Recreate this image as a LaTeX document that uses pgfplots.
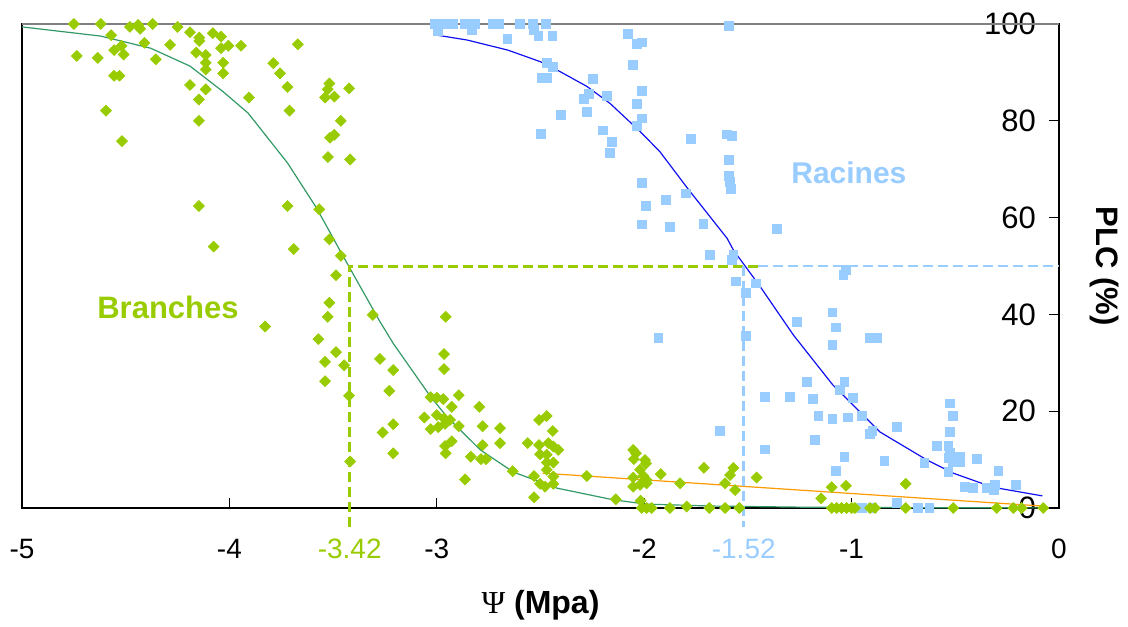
\documentclass[border=0pt]{standalone}
\usepackage{fontspec}
\setmainfont{Liberation Sans}
\newfontfamily\psifont{Liberation Serif}
\usepackage{pgfplots}
\pgfplotsset{compat=1.18}
\definecolor{grn}{HTML}{99CC00}
\definecolor{lb}{HTML}{99CCFF}
\definecolor{seagreen}{HTML}{339966}
\definecolor{orng}{HTML}{FF9900}
\definecolor{curveblue}{HTML}{1010F0}

\begin{document}
\begin{tikzpicture}
\begin{axis}[
    scale only axis,
    width=518.5pt, height=242pt,
    xmin=-5, xmax=0, ymin=0, ymax=100,
    clip=false,
    axis line style={black, line width=0.7pt},
    tick align=inside,
    xtick pos=bottom, ytick pos=right,
    xtick={-5,-4,-3,-2,-1,0},
    xticklabels={-5,-4,-3,-2,-1,0},
    ytick={0,20,40,60,80,100},
    yticklabels={0,20,40,60,80,100},
    major tick length=5pt,
    tick style={black, line width=0.6pt},
    xticklabel style={font=\fontsize{14}{16}\selectfont, yshift=-12pt},
    yticklabel style={font=\fontsize{15.5}{17}\selectfont, anchor=east, xshift=-8pt},
    extra x ticks={-3.42,-1.52},
    extra x tick labels={{\color{grn}-3.42},{\color{lb}-1.52}},
    extra x tick style={major tick length=0pt},
]
% fitted curves
\addplot[seagreen, line width=0.6pt, no marks] coordinates {
    (-5,99.4) (-4.62,97.5) (-4.38,95) (-4.19,91.3) (-4.03,86) (-3.91,81.6)
    (-3.72,71.3) (-3.58,62) (-3.45,51.9) (-3.274,38.5) (-3.21,34) (-3.03,23)
    (-2.95,18.8) (-2.79,12) (-2.63,7.4) (-2.42,4.1) (-2.15,1.7) (-1.99,0.8)
    (-1.67,0.4) (-1.2,0.15) (-0.5,0.05) (-0.05,0.02)
};
\addplot[curveblue, line width=0.6pt, no marks] coordinates {
    (-3.0,97.7) (-2.855,96.7) (-2.657,94.6) (-2.5,92.2) (-2.42,90.5) (-2.276,87.1)
    (-2.165,83.6) (-2.02,77.8) (-1.924,73.6) (-1.79,66) (-1.683,60.2) (-1.6,55.7)
    (-1.57,53.3) (-1.44,45.7) (-1.28,35.7) (-1.09,25.4) (-0.863,15.7) (-0.636,9.9)
    (-0.51,7.2) (-0.32,4.3) (-0.08,2.5)
};
\addplot[orng, line width=0.6pt, no marks] coordinates {(-2.49,7.2) (-0.08,0.4)};

% Racines
\addplot[only marks, mark=square*, mark size=2.2pt, mark options={draw=lb, fill=lb}] coordinates {
    (-3.009,100) (-2.985,100) (-2.961,100) (-2.924,100) (-2.864,100) (-2.84,100)
    (-2.816,100) (-2.728,100) (-2.7,100) (-2.599,100) (-2.535,100) (-2.473,100)
    (-2.993,98.6) (-2.829,98.8) (-2.531,98.8) (-2.51,97.5) (-2.443,97.5) (-2.66,96.9)
    (-1.59,99.6) (-2.077,97.9) (-2.036,95.9) (-2.012,96.2) (-2.053,91.5) (-2.47,91.9)
    (-2.441,91.2) (-2.494,88.9) (-2.47,88.9) (-2.248,88.6) (-2.289,84.6) (-2.265,85.5)
    (-2.178,85.2) (-2.012,86.2) (-2.036,83.5) (-2.012,80.5) (-2.036,78.9) (-2.277,81.9)
    (-2.403,81.2) (-2.498,77.3) (-2.2,78) (-2.154,75.6) (-2.165,73.3) (-1.774,76.2)
    (-1.602,77.2) (-1.578,76.9) (-1.59,71.9) (-1.59,68.6) (-1.586,67.4) (-1.581,66)
    (-2.012,67.2) (-1.991,62.4) (-1.896,63.6) (-1.798,65) (-2.012,58.6) (-1.876,58)
    (-1.715,58.7) (-1.683,52.3) (-1.57,52.3) (-1.361,57.6)
    (-1.578,51.2) (-1.557,46.8) (-1.461,46.4) (-1.51,44.4) (-1.51,35.5) (-1.932,35.1)
    (-1.635,16)
    (-1.027,49.2) (-1.04,48.1) (-1.093,40.4) (-1.075,37.3) (-1.093,33.7) (-1.262,38.4)
    (-0.911,35.1) (-0.876,35.1) (-1.214,26.1) (-1.035,26.1) (-1.056,24.4) (-1.417,23)
    (-1.297,23) (-1.185,22.5) (-0.992,22.8) (-1.16,19) (-1.093,18.4) (-1.016,18.7)
    (-0.951,19) (-0.911,15.3) (-0.9,15.9) (-1.176,14) (-1.417,12.1) (-0.783,16.8)
    (-0.842,9.8) (-1.035,10.5) (-1.075,7.7) (-0.649,9.4) (-0.587,12.8) (-0.525,21.6)
    (-0.51,19) (-0.525,15.8) (-0.533,12.8) (-0.525,11.4) (-0.533,10.3) (-0.51,9.6)
    (-0.477,10.6) (-0.477,9.6) (-0.533,7.4) (-0.394,10.1) (-0.292,7.7) (-0.453,4.4)
    (-0.416,4.1) (-0.349,4.1) (-0.308,4.8) (-0.312,3.7) (-0.207,4.8) (-0.783,1.1)
    (-0.625,0.1) (-0.95,0) (-0.9,0) (-0.68,0)
};

% Branches
\addplot[only marks, mark=square*, mark size=1.9pt, mark options={rotate=45, draw=grn, fill=grn}] coordinates {
    (-4.75,100) (-4.62,100) (-4.48,99.4) (-4.44,99.8) (-4.43,99) (-4.37,100) (-4.25,99.4)
    (-4.19,98.3) (-4.145,97.2) (-4.145,96.5) (-4.08,98.1) (-4.04,97.4) (-4.04,95)
    (-4.005,95.5) (-3.944,95.5) (-4.57,97.7) (-4.556,94.6) (-4.52,95.5) (-4.51,93.7)
    (-4.736,93.4) (-4.635,93) (-4.41,96.1) (-4.355,92.7) (-4.286,95.7) (-4.16,94.1)
    (-4.114,93.6) (-4.114,92) (-4.114,90.6) (-4.03,92) (-4.03,89.8) (-4.556,89.3)
    (-4.53,89.3) (-4.19,87.4) (-4.114,86.5) (-4.147,84.4) (-3.906,84.8) (-4.595,82.1)
    (-4.147,80) (-4.518,75.8) (-3.67,95.8) (-3.788,91.9) (-3.756,89.8) (-3.72,87)
    (-3.71,82.1) (-3.518,87.7) (-3.526,86.5) (-3.539,84.8) (-3.494,85) (-3.423,86.7)
    (-3.463,80) (-3.515,76.5) (-3.494,77.1) (-3.525,72.5) (-3.418,72) (-4.147,62.4)
    (-3.72,62.4) (-3.567,61.7) (-4.076,54) (-3.69,53.5) (-3.518,55.5) (-3.463,52.1)
    (-3.486,48.1) (-3.518,42.4) (-3.526,39.5) (-3.828,37.5) (-3.571,34.9) (-3.486,32.2)
    (-3.539,30.2) (-3.447,29.5) (-3.539,26.2) (-3.423,23.2) (-3.418,9.6) (-3.309,39.9)
    (-3.274,30.8)
    (-3.21,28.5) (-3.229,24.2) (-3.21,17.3) (-3.261,15.6) (-3.21,11.3) (-2.957,39.5)
    (-2.965,31.8) (-2.965,28.7) (-3.03,22.9) (-3.0,22.8) (-2.969,22.5) (-2.894,23.3)
    (-2.928,20.9) (-2.795,20.9) (-3.06,18.7) (-3.0,19.2) (-2.965,18.5) (-2.936,18.2)
    (-3.03,16.3) (-2.993,16.7) (-2.96,17.4) (-2.894,16.9) (-2.779,16.9) (-2.695,16.5)
    (-2.928,13.8) (-2.96,12.8) (-2.957,11.3) (-2.779,13) (-2.695,13.4) (-2.836,10.6)
    (-2.787,10.1) (-2.763,10.1) (-2.864,5.9) (-2.634,7.6) (-2.562,13.4) (-2.531,6.6)
    (-2.531,2.2) (-2.507,18.2) (-2.47,19) (-2.441,15.9) (-2.507,13) (-2.462,13.4)
    (-2.438,12.7) (-2.414,12) (-2.502,11.1) (-2.47,11) (-2.47,9.4) (-2.438,9.4)
    (-2.47,7.9) (-2.438,6.5) (-2.502,5) (-2.478,4.4) (-2.438,5) (-2.277,6.6)
    (-2.137,1.8) (-2.053,12) (-2.04,11.3) (-2.05,10.1) (-1.996,9.9) (-1.991,9.2)
    (-2.02,7.9) (-2.053,6.3) (-2.004,6.6) (-1.988,5.8) (-2.053,4.4) (-2.02,4.8)
    (-1.988,5.1) (-1.92,7) (-1.827,5.1) (-2.017,1.5) (-2.012,0) (-1.988,0) (-1.964,0)
    (-1.876,0) (-1.795,0.3) (-1.712,8.3) (-1.686,0) (-1.61,0) (-1.541,0) (-1.57,8.3)
    (-1.586,6.8) (-1.61,5.1) (-1.562,3.7) (-1.458,6.3)
    (-1.096,4.3) (-1.027,4.6) (-1.147,2) (-0.739,5) (-1.096,0) (-1.072,0) (-1.048,0)
    (-1.024,0) (-1.0,0) (-0.984,0) (-0.911,0) (-0.887,0) (-0.739,0) (-0.51,0)
    (-0.30,0) (-0.22,0) (-0.18,0) (-0.076,0)
};

% P50 guides
\draw[grn, line width=1.5pt, dash pattern=on 5pt off 2.5pt]
    (axis cs:-3.42,-4) -- (axis cs:-3.42,50) -- (axis cs:-1.45,50);
\draw[lb, line width=1.3pt, dash pattern=on 5pt off 2.5pt]
    (axis cs:-1.45,50) -- (axis cs:0,50);
\draw[lb, line width=1.3pt, dash pattern=on 5pt off 2.5pt]
    (axis cs:-1.52,50) -- (axis cs:-1.52,-4);

\draw[gray, line width=1pt] (rel axis cs:0,1) -- (rel axis cs:1,1);

\node[grn, font=\bfseries\fontsize{15.5}{18}\selectfont] at (axis cs:-4.296,41.5) {Branches};
\node[lb, font=\bfseries\fontsize{15}{18}\selectfont] at (axis cs:-1.013,69.2) {Racines};

\node[font=\bfseries\fontsize{16}{18}\selectfont, yshift=-48.5pt] at (rel axis cs:0.5,0) {{\psifont\mdseries Ψ} (Mpa)};
\node[font=\bfseries\fontsize{15.5}{18}\selectfont, rotate=-90] at ([xshift=23pt]rel axis cs:1,0.5) {PLC (\%)};

\path (rel axis cs:0,0) ++(-11pt,-57.5pt) rectangle ++(564pt,311.5pt);
\end{axis}
\end{tikzpicture}
\end{document}
